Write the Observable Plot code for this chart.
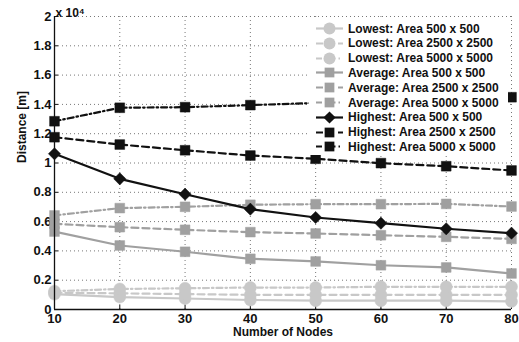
<!DOCTYPE html>
<html>
<head>
<meta charset="utf-8">
<script src="https://cdn.jsdelivr.net/npm/d3@7"></script>
<script src="https://cdn.jsdelivr.net/npm/@observablehq/plot@0.6"></script>
<style>
  html, body { margin: 0; padding: 0; background: #fff; }
  #wrap { position: relative; width: 519px; height: 342px; font-family: "Liberation Sans", Arial, sans-serif; }
  #legend { position: absolute; left: 309px; top: 19px; width: 199px; height: 136px; background: #fff; }
  .row { position: absolute; left: 0; height: 15px; display: flex; align-items: center; font-weight: bold; font-size: 12px; color: #111; white-space: nowrap; }
  .row svg { margin-left: 7px; margin-right: 4px; }
</style>
</head>
<body>
<div id="wrap"></div>
<script>
const nodes = [10, 20, 30, 40, 50, 60, 70, 80];

const lowest500   = [1050, 850, 750, 650, 600, 600, 600, 550];
const lowest2500  = [1150, 1100, 1050, 1000, 1000, 1000, 1000, 1000];
const lowest5000  = [1250, 1400, 1450, 1500, 1500, 1550, 1550, 1550];
const average500  = [5320, 4370, 3940, 3460, 3280, 3020, 2870, 2460];
const average2500 = [5850, 5620, 5440, 5280, 5190, 5070, 4960, 4820];
const average5000 = [6420, 6920, 7010, 7150, 7190, 7190, 7210, 7030];
const highest500  = [10630, 8920, 7870, 6850, 6280, 5890, 5510, 5210];
const highest2500 = [11760, 11260, 10870, 10510, 10290, 9990, 9780, 9490];
const highest5000 = [12850, 13770, 13810, 13950, 14100, 14200, 14350, 14490];

const seriesNames = [
  "Lowest: Area 500 x 500", "Lowest: Area 2500 x 2500", "Lowest: Area 5000 x 5000",
  "Average: Area 500 x 500", "Average: Area 2500 x 2500", "Average: Area 5000 x 5000",
  "Highest: Area 500 x 500", "Highest: Area 2500 x 2500", "Highest: Area 5000 x 5000"
];
const seriesValues = [lowest500, lowest2500, lowest5000, average500, average2500, average5000, highest500, highest2500, highest5000];

const LIGHT = "#c8c8c8", MID = "#a0a0a0", DARK = "#111111";
const SOLID = null, DASH = "7,4", DASHDOT = "6,3,1.5,3";
const styles = [
  {color: LIGHT, dash: SOLID,   symbol: "circle",   r: 6},
  {color: LIGHT, dash: DASH,    symbol: "circle",   r: 6},
  {color: LIGHT, dash: DASHDOT, symbol: "circle",   r: 6},
  {color: MID,   dash: SOLID,   symbol: "square",   r: 5.5},
  {color: MID,   dash: DASH,    symbol: "square",   r: 5.5},
  {color: MID,   dash: DASHDOT, symbol: "square",   r: 5.5},
  {color: DARK,  dash: SOLID,   symbol: "diamond2", r: 5.5},
  {color: DARK,  dash: DASH,    symbol: "square",   r: 5.5},
  {color: DARK,  dash: DASHDOT, symbol: "square",   r: 5.5}
];

const yTicks = [0, 2000, 4000, 6000, 8000, 10000, 12000, 14000, 16000, 18000, 20000];

const marks = [
  Plot.gridX(nodes, {stroke: "#777", strokeOpacity: 1, strokeDasharray: "1,3", strokeWidth: 1}),
  Plot.gridY(yTicks, {stroke: "#777", strokeOpacity: 1, strokeDasharray: "1,3", strokeWidth: 1}),
  Plot.axisX(nodes, {tickSize: -4, tickPadding: 8, tickFormat: d => String(d), fontSize: 13, fontWeight: "bold", label: null, stroke: DARK}),
  Plot.axisY(yTicks, {tickSize: -4, tickPadding: 7, tickFormat: d => String(+(d / 1e4).toFixed(1)), fontSize: 13, fontWeight: "bold", label: null, stroke: DARK}),
];

seriesValues.forEach((vals, i) => {
  const data = nodes.map((n, j) => ({n, v: vals[j]}));
  const s = styles[i];
  marks.push(Plot.line(data, {x: "n", y: "v", stroke: s.color, strokeWidth: 2.2, strokeDasharray: s.dash}));
  marks.push(Plot.dot(data, {x: "n", y: "v", symbol: s.symbol, r: s.r, fill: s.color, stroke: s.color, strokeWidth: 0.5}));
});

marks.push(
  Plot.ruleX([10], {stroke: DARK, strokeWidth: 1.3}),
  Plot.ruleY([0], {stroke: DARK, strokeWidth: 1.3}),
  Plot.text(["Number of Nodes"], {frameAnchor: "bottom", dy: 26, fontSize: 12, fontWeight: "bold", fill: DARK}),
  Plot.text(["Distance [m]"], {frameAnchor: "left", rotate: -90, dx: -32, fontSize: 12, fontWeight: "bold", fill: DARK}),
  Plot.text(["x 10\u2074"], {frameAnchor: "top-left", textAnchor: "start", dx: 1, dy: -8, fontSize: 12, fontWeight: "bold", fill: DARK})
);

const chart = Plot.plot({
  width: 519,
  height: 342,
  marginLeft: 54,
  marginRight: 8,
  marginTop: 16,
  marginBottom: 33,
  style: {fontFamily: "'Liberation Sans', Arial, sans-serif", background: "#fff", color: DARK},
  x: {domain: [10, 80], axis: null},
  y: {domain: [0, 20000], axis: null},
  symbol: {type: "identity"},
  marks
});

const wrap = document.getElementById("wrap");
wrap.appendChild(chart);

// Legend
const legend = document.createElement("div");
legend.id = "legend";
const symGen = {circle: d3.symbolCircle, square: d3.symbolSquare, diamond2: d3.symbolDiamond2};
seriesNames.forEach((name, i) => {
  const s = styles[i];
  const row = document.createElement("div");
  row.className = "row";
  row.style.top = (2 + i * 14.8) + "px";
  const svg = d3.create("svg").attr("width", 28).attr("height", 15);
  svg.append("line").attr("x1", 0).attr("x2", 27).attr("y1", 7.5).attr("y2", 7.5)
    .attr("stroke", s.color).attr("stroke-width", 2.2).attr("stroke-dasharray", s.dash || null);
  svg.append("path").attr("transform", "translate(13.5,7.5)")
    .attr("d", d3.symbol(symGen[s.symbol], Math.PI * s.r * s.r)())
    .attr("fill", s.color);
  row.appendChild(svg.node());
  const t = document.createElement("span");
  t.textContent = name;
  row.appendChild(t);
  legend.appendChild(row);
});
wrap.appendChild(legend);
</script>
</body>
</html>
